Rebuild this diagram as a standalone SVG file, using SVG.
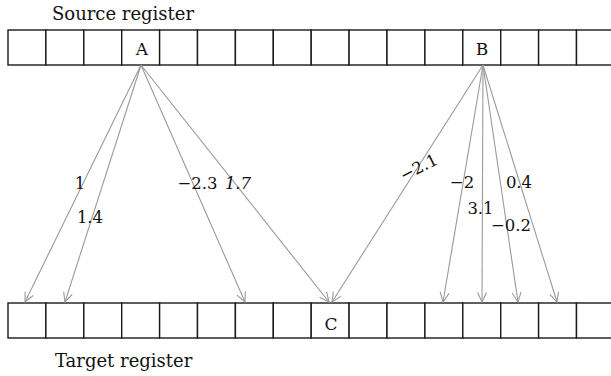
<svg xmlns="http://www.w3.org/2000/svg" width="611" height="376" viewBox="0 0 611 376">
<style>
text{font-family:"DejaVu Serif",serif;fill:#111}
.title{font-size:18px}
.cell{fill:#fff;stroke:#1a1a1a;stroke-width:1.4}
.lab{font-size:16.5px;text-anchor:middle}
.w{font-size:17px;text-anchor:middle}
.conn line{stroke:#9a9a9a;stroke-width:1.1;fill:none}
</style>
<defs>
<marker id="ah" markerUnits="userSpaceOnUse" markerWidth="12" markerHeight="12" refX="10" refY="6" orient="auto">
<path d="M0.5,1.5 L10,6 L0.5,10.5" fill="none" stroke="#9a9a9a" stroke-width="1.1"/>
</marker>
<g id="row">
<rect class="cell" x="8" y="0" width="37.9" height="35"/>
<rect class="cell" x="45.9" y="0" width="37.9" height="35"/>
<rect class="cell" x="83.8" y="0" width="37.9" height="35"/>
<rect class="cell" x="121.7" y="0" width="37.9" height="35"/>
<rect class="cell" x="159.6" y="0" width="37.9" height="35"/>
<rect class="cell" x="197.5" y="0" width="37.9" height="35"/>
<rect class="cell" x="235.4" y="0" width="37.9" height="35"/>
<rect class="cell" x="273.3" y="0" width="37.9" height="35"/>
<rect class="cell" x="311.2" y="0" width="37.9" height="35"/>
<rect class="cell" x="349.1" y="0" width="37.9" height="35"/>
<rect class="cell" x="387" y="0" width="37.9" height="35"/>
<rect class="cell" x="424.9" y="0" width="37.9" height="35"/>
<rect class="cell" x="462.8" y="0" width="37.9" height="35"/>
<rect class="cell" x="500.7" y="0" width="37.9" height="35"/>
<rect class="cell" x="538.6" y="0" width="37.9" height="35"/>
<rect class="cell" x="576.5" y="0" width="37.9" height="35"/>
</g>
</defs>
<g id="source">
<text class="title" x="52" y="20">Source register</text>
<use href="#row" y="30"/>
<text class="w" x="142" y="55">A</text>
<text class="w" x="482" y="55">B</text>
</g>
<g id="target">
<use href="#row" y="303"/>
<text class="w" x="331" y="330">C</text>
<text class="title" x="55" y="367">Target register</text>
</g>
<g class="conn" id="connectors">
<line x1="141" y1="65" x2="25" y2="302" marker-end="url(#ah)"/>
<line x1="141" y1="65" x2="65" y2="302" marker-end="url(#ah)"/>
<line x1="141" y1="65" x2="245" y2="302" marker-end="url(#ah)"/>
<line x1="141" y1="65" x2="329" y2="302" marker-end="url(#ah)"/>
<line x1="483" y1="65" x2="332" y2="302" marker-end="url(#ah)"/>
<line x1="483" y1="65" x2="443" y2="302" marker-end="url(#ah)"/>
<line x1="483" y1="65" x2="482" y2="302" marker-end="url(#ah)"/>
<line x1="483" y1="65" x2="518" y2="302" marker-end="url(#ah)"/>
<line x1="483" y1="65" x2="557" y2="302" marker-end="url(#ah)"/>
</g>
<g id="labels">
<text class="lab" x="80" y="189">1</text>
<text class="lab" x="90" y="223">1.4</text>
<text class="lab" x="197.5" y="189">−2.3</text>
<text class="lab" x="238" y="189" font-style="italic">1.7</text>
<text class="lab" x="419" y="173" transform="rotate(-27 419 168)">−2.1</text>
<text class="lab" x="462" y="188">−2</text>
<text class="lab" x="519" y="188">0.4</text>
<text class="lab" x="480.5" y="214">3.1</text>
<text class="lab" x="511" y="231">−0.2</text>
</g>
</svg>
